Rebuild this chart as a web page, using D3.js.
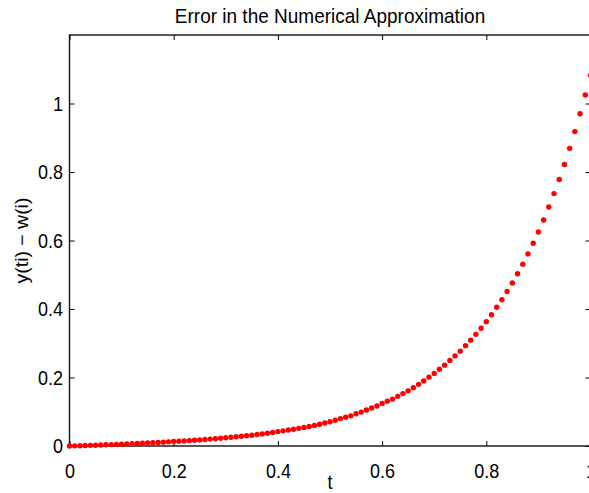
<!DOCTYPE html>
<html>
<head>
<meta charset="utf-8">
<script src="https://cdn.jsdelivr.net/npm/d3@7"></script>
<style>
  html, body { margin: 0; padding: 0; background: #fff; overflow: hidden; }
  text { font-family: "Liberation Sans", Arial, Helvetica, sans-serif; fill: #000; }
</style>
</head>
<body>
<div id="vis-error"></div>
<script>
// Data ----------------------------------------------------------------------------------------------------------------
const tValues = [
  0.00, 0.01, 0.02, 0.03, 0.04, 0.05, 0.06, 0.07, 0.08, 0.09,
  0.10, 0.11, 0.12, 0.13, 0.14, 0.15, 0.16, 0.17, 0.18, 0.19,
  0.20, 0.21, 0.22, 0.23, 0.24, 0.25, 0.26, 0.27, 0.28, 0.29,
  0.30, 0.31, 0.32, 0.33, 0.34, 0.35, 0.36, 0.37, 0.38, 0.39,
  0.40, 0.41, 0.42, 0.43, 0.44, 0.45, 0.46, 0.47, 0.48, 0.49,
  0.50, 0.51, 0.52, 0.53, 0.54, 0.55, 0.56, 0.57, 0.58, 0.59,
  0.60, 0.61, 0.62, 0.63, 0.64, 0.65, 0.66, 0.67, 0.68, 0.69,
  0.70, 0.71, 0.72, 0.73, 0.74, 0.75, 0.76, 0.77, 0.78, 0.79,
  0.80, 0.81, 0.82, 0.83, 0.84, 0.85, 0.86, 0.87, 0.88, 0.89,
  0.90, 0.91, 0.92, 0.93, 0.94, 0.95, 0.96, 0.97, 0.98, 0.99,
  1.00
];

const errorValues = [
  0.0000, 0.0004, 0.0009, 0.0014, 0.0019, 0.0024, 0.0029, 0.0035, 0.0041, 0.0047,
  0.0053, 0.0059, 0.0066, 0.0073, 0.0080, 0.0088, 0.0096, 0.0104, 0.0113, 0.0121,
  0.0130, 0.0139, 0.0148, 0.0158, 0.0168, 0.0178, 0.0189, 0.0201, 0.0213, 0.0226,
  0.0240, 0.0254, 0.0268, 0.0283, 0.0299, 0.0316, 0.0334, 0.0353, 0.0373, 0.0395,
  0.0420, 0.0442, 0.0465, 0.0490, 0.0516, 0.0543, 0.0572, 0.0602, 0.0634, 0.0670,
  0.0710, 0.0750, 0.0800, 0.0840, 0.0880, 0.0940, 0.0990, 0.1050, 0.1110, 0.1170,
  0.1240, 0.1310, 0.1370, 0.1450, 0.1530, 0.1610, 0.1700, 0.1800, 0.1900, 0.2010,
  0.2120, 0.2240, 0.2360, 0.2500, 0.2630, 0.2770, 0.2930, 0.3090, 0.3260, 0.3440,
  0.3630, 0.3830, 0.4050, 0.4270, 0.4510, 0.4760, 0.5030, 0.5310, 0.5610, 0.5920,
  0.6250, 0.6600, 0.6980, 0.7370, 0.7780, 0.8220, 0.8690, 0.9180, 0.9700, 1.0250,
  1.0830
];

const xTicks = [0, 0.2, 0.4, 0.6, 0.8, 1];
const yTicks = [0, 0.2, 0.4, 0.6, 0.8, 1];
const xTickLabels = ["0", "0.2", "0.4", "0.6", "0.8", "1"];
const yTickLabels = ["0", "0.2", "0.4", "0.6", "0.8", "1"];

// Initialize the canvas -----------------------------------------------------------------------------------------------
const canvasWidth = 589;
const canvasHeight = 493;

const leftEdge = 69.5;
const rightEdge = 590.5;
const topEdge = 35;
const bottomEdge = 446;

const tickLength = 5;
const fontSize = 18;
const stretch = "scale(1,1.1)";

const svg = d3.select("#vis-error")
  .append("svg")
  .attr("width", canvasWidth)
  .attr("height", canvasHeight)
  .attr("viewBox", [0, 0, canvasWidth, canvasHeight]);

const xScale = d3.scaleLinear()
  .domain([0, 1])
  .range([leftEdge, rightEdge]);
const yScale = d3.scaleLinear()
  .domain([0, 1.2])
  .range([bottomEdge, topEdge]);

// Axes (MATLAB box with inward ticks) ---------------------------------------------------------------------------------
const bottomAxis = svg.append("g")
  .attr("transform", "translate(0," + bottomEdge + ")")
  .call(d3.axisBottom(xScale).tickValues(xTicks).tickSizeInner(-tickLength).tickSizeOuter(0)
    .tickFormat((d, i) => xTickLabels[i]));
const topAxis = svg.append("g")
  .attr("transform", "translate(0," + topEdge + ")")
  .call(d3.axisTop(xScale).tickValues(xTicks).tickSizeInner(-tickLength).tickSizeOuter(0).tickFormat(""));
const leftAxis = svg.append("g")
  .attr("transform", "translate(" + leftEdge + ",0)")
  .call(d3.axisLeft(yScale).tickValues(yTicks).tickSizeInner(-tickLength).tickSizeOuter(0)
    .tickFormat((d, i) => yTickLabels[i]).tickPadding(6.5));
const rightAxis = svg.append("g")
  .attr("transform", "translate(" + rightEdge + ",0)")
  .call(d3.axisRight(yScale).tickValues(yTicks).tickSizeInner(-tickLength).tickSizeOuter(0).tickFormat(""));

[bottomAxis, topAxis, leftAxis, rightAxis].forEach(function(axis) {
  axis.select(".domain").remove();
  axis.selectAll("line")
    .style("stroke", "#000")
    .style("stroke-width", 1);
  axis.selectAll("text")
    .style("font-size", fontSize + "px")
    .style("fill", "#000");
});

bottomAxis.selectAll("text")
  .attr("dy", null)
  .attr("y", 0)
  .attr("transform", "translate(0,31.5) " + stretch);
leftAxis.selectAll("text")
  .attr("dy", null)
  .attr("transform", "translate(0,6.5) " + stretch);

// Box frame
svg.append("rect")
  .attr("x", leftEdge)
  .attr("y", topEdge)
  .attr("width", rightEdge - leftEdge)
  .attr("height", bottomEdge - topEdge)
  .attr("fill", "none")
  .attr("stroke", "#111")
  .attr("stroke-width", 1.4);

// Labels --------------------------------------------------------------------------------------------------------------
svg.append("text")
  .text("Error in the Numerical Approximation")
  .attr("transform", "translate(" + ((leftEdge + rightEdge) / 2) + ",23) " + stretch)
  .style("text-anchor", "middle")
  .style("font-size", "19px");

svg.append("text")
  .text("t")
  .attr("transform", "translate(" + ((leftEdge + rightEdge) / 2) + ",489) " + stretch)
  .style("text-anchor", "middle")
  .style("font-size", fontSize + "px");

svg.append("text")
  .text("y(ti) \u2212 w(i)")
  .attr("transform", "translate(28," + ((topEdge + bottomEdge) / 2) + ") rotate(-90) scale(1.08,1)")
  .style("text-anchor", "middle")
  .style("font-size", fontSize + "px");

// Points --------------------------------------------------------------------------------------------------------------
svg.append("g")
  .selectAll("circle")
  .data(tValues.map((t, i) => [t, errorValues[i]]))
  .join("circle")
  .attr("cx", d => xScale(d[0]))
  .attr("cy", d => yScale(d[1]))
  .attr("r", 2.7)
  .attr("fill", "#ff0000");
</script>
</body>
</html>
